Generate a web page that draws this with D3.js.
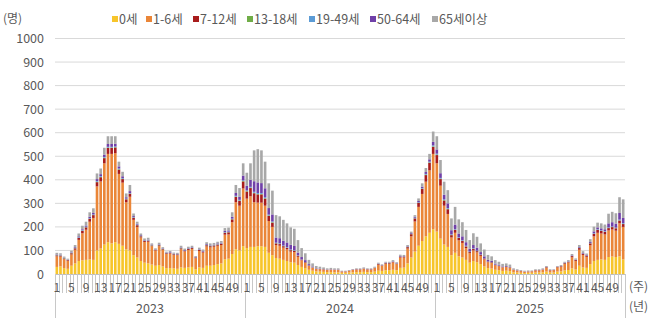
<!DOCTYPE html>
<html>
<head>
<meta charset="utf-8">
<script src="https://cdn.jsdelivr.net/npm/d3@7/dist/d3.min.js"></script>
<style>
  html, body { margin: 0; padding: 0; background: #fff; }
  svg { display: block; font-family: "Noto Sans CJK KR", "Noto Sans", sans-serif; }
</style>
</head>
<body>
<svg id="chart" width="651" height="330"></svg>
<script>
// Weekly counts by age group, 2023 week 1 – 2025 week 52
const years = ["2023", "2024", "2025"];
const weeksPerYear = 52;
const weekTickLabels = [1, 5, 9, 13, 17, 21, 25, 29, 33, 37, 41, 45, 49];
const yTicks = [0, 100, 200, 300, 400, 500, 600, 700, 800, 900, 1000];
const seriesNames = ["0세", "1-6세", "7-12세", "13-18세", "19-49세", "50-64세", "65세이상"];

const age0 = [
  30,32,25,22,35,45,55,58,60,62, 60,100,108,125,135,130,135,128,120,105,
  100,80,70,55,48,45,40,35,38,32, 25,25,24,22,28,26,28,30,20,28,
  26,35,35,38,42,45,62,65,85,105, 100,118,
  110,115,115,118,118,115,90,80,68,65, 60,55,50,48,38,30,25,18,14,11,
  10,9,8,8,7,7,5,5,6,7, 8,8,9,8,8,10,14,13,16,16,
  18,16,26,27,45,70,95,120,140,160, 175,190,
  180,150,125,115,80,90,75,70,60,48, 55,50,42,32,25,23,18,16,13,14,
  12,7,6,5,4,5,5,6,6,7, 10,6,6,10,11,15,17,24,19,35,
  28,26,42,55,60,62,60,72,74,72, 75,62
];
const age1to6 = [
  45,42,38,34,48,58,90,115,128,160, 178,272,285,345,375,380,378,297,268,200,
  228,150,130,100,88,92,78,65,80,70, 60,62,57,58,77,70,74,76,47,70,
  65,82,78,78,78,78,105,103,135,200, 190,245,
  210,215,190,185,185,175,135,120,55,55, 52,50,45,45,35,28,22,16,13,10,
  10,10,9,10,10,10,6,6,7,10, 11,11,13,11,11,15,25,21,27,27,
  31,26,44,43,63,90,128,165,200,232, 265,320,
  290,225,165,140,75,85,68,62,50,40, 45,42,35,30,25,24,19,17,15,16,
  15,10,8,7,6,6,6,9,9,11, 17,9,10,18,20,28,32,47,36,68,
  53,47,80,105,115,110,108,113,115,112, 140,138
];
const age7to12 = [
  4,4,3,3,5,6,8,10,10,12, 12,18,18,22,25,25,24,18,15,12,
  13,9,7,5,4,4,3,3,4,3, 3,3,3,3,4,3,4,4,3,4,
  4,5,5,5,5,5,8,9,12,22, 20,30,
  30,35,38,35,35,30,22,18,7,7, 6,6,6,5,4,3,3,2,1,1,
  1,1,1,1,1,1,0,0,1,1, 1,1,1,1,1,1,3,2,3,3,
  3,2,4,4,6,9,13,17,22,28, 32,30,
  35,28,22,20,10,12,10,8,7,5, 6,5,4,4,3,3,2,2,1,1,
  1,1,1,1,0,0,1,1,1,1, 2,1,1,2,2,3,3,5,4,7,
  5,5,8,10,12,11,11,10,10,10, 12,12
];
const age13to18 = [
  1,1,1,0,1,1,1,1,1,1, 1,2,2,2,2,2,2,2,1,1,
  1,1,1,1,1,1,1,0,1,1, 0,0,0,0,1,0,1,1,0,0,
  0,1,1,1,1,1,1,1,1,2, 2,2,
  2,2,2,2,2,2,2,2,1,1, 1,1,1,1,1,0,0,0,0,0,
  0,0,0,0,0,0,0,0,0,0, 0,0,0,0,0,0,0,0,0,0,
  0,0,0,0,1,1,1,1,1,2, 2,2,
  2,2,2,2,1,1,1,1,1,1, 1,1,1,0,0,0,0,0,0,0,
  0,0,0,0,0,0,0,0,0,0, 0,0,0,0,0,0,0,0,0,1,
  0,0,1,1,1,1,1,1,1,1, 1,1
];
const age19to49 = [
  1,1,1,1,1,1,2,2,2,2, 2,3,3,3,3,3,3,3,3,2,
  2,2,2,1,1,1,1,1,1,1, 1,1,1,1,1,1,1,1,1,1,
  1,1,1,1,1,1,2,2,2,3, 3,3,
  3,3,4,4,4,4,3,3,2,2, 2,2,2,2,1,1,1,1,1,0,
  0,0,0,0,0,0,0,0,0,0, 0,0,0,0,0,0,1,0,1,1,
  1,1,1,1,1,1,2,2,2,3, 3,4,
  4,3,3,3,2,2,2,2,2,1, 2,1,1,1,1,1,1,1,0,0,
  0,0,0,0,0,0,0,0,0,0, 0,0,0,0,0,1,1,1,1,1,
  1,1,1,2,2,2,2,2,2,2, 3,3
];
const age50to64 = [
  2,2,1,1,2,3,4,4,5,6, 6,8,8,10,12,12,11,9,8,6,
  8,4,3,3,2,3,2,1,2,2, 1,2,1,1,2,2,2,2,1,2,
  2,3,2,2,3,3,5,5,8,12, 14,20,
  20,30,45,45,42,38,28,30,22,22, 20,20,20,18,12,10,8,5,3,2,
  2,1,1,1,1,1,1,1,1,1, 1,1,1,1,1,1,1,1,1,1,
  1,1,2,1,2,3,4,5,6,8, 10,15,
  18,20,20,20,18,20,16,17,15,12, 14,13,10,8,6,5,4,3,3,3,
  2,1,1,1,1,1,0,1,1,1, 1,1,1,1,1,1,1,2,1,3,
  2,2,4,8,8,8,8,17,18,17, 28,22
];
const age65plus = [
  7,6,5,4,7,9,12,15,16,19, 20,24,24,29,33,33,32,20,19,16,
  26,11,9,7,7,8,5,4,7,5, 5,5,5,5,7,6,6,6,4,7,
  6,8,8,7,7,7,12,12,19,34, 36,52,
  55,70,131,141,139,113,105,101,95,93, 89,81,74,73,53,38,29,18,13,10,
  8,7,5,6,5,5,2,2,2,2, 3,3,4,3,3,4,4,4,4,4,
  5,4,5,5,5,6,7,11,14,17, 23,44,
  56,56,55,56,50,75,60,60,52,37, 50,46,37,29,21,19,15,13,11,11,
  10,5,4,3,3,3,3,3,3,4, 4,3,2,3,4,4,5,6,5,8,
  8,6,12,20,20,21,20,41,44,44, 67,79
];

const seriesValues = [age0, age1to6, age7to12, age13to18, age19to49, age50to64, age65plus];
const colors = ["#F7C52B", "#EA8638", "#A81C1C", "#70AD47", "#5B9BD5", "#7040A8", "#A8A8A8"];

// one row per week, keyed by series name
const rows = [];
years.forEach((yr, yi) => {
  for (let w = 1; w <= weeksPerYear; w++) {
    const i = yi * weeksPerYear + (w - 1);
    const row = { id: yr + "-" + w, year: yr, week: w };
    seriesNames.forEach((name, si) => { row[name] = seriesValues[si][i]; });
    rows.push(row);
  }
});

const svg = d3.select("#chart");
const left = 55, right = 625, baseY = 274, topY = 38.5;
const textColor = "#595959";

const x = d3.scaleBand().domain(rows.map(d => d.id)).range([left, right]).paddingInner(0.28).paddingOuter(0.14);
const y = d3.scaleLinear().domain([0, 1000]).range([baseY, topY]);
const step = x.step();

// horizontal gridlines
svg.append("g").selectAll("line").data(yTicks.filter(t => t > 0)).join("line")
  .attr("x1", left).attr("x2", right)
  .attr("y1", d => y(d)).attr("y2", d => y(d))
  .attr("stroke", "#D9D9D9").attr("stroke-width", 1);

// stacked bars
const stacked = d3.stack().keys(seriesNames)(rows);
svg.append("g").selectAll("g").data(stacked).join("g")
  .attr("fill", (d, i) => colors[i])
  .selectAll("rect").data(d => d).join("rect")
  .attr("x", d => x(d.data.id))
  .attr("width", x.bandwidth())
  .attr("y", d => y(d[1]))
  .attr("height", d => Math.max(0, y(d[0]) - y(d[1])));

// y axis
const yAxis = svg.append("g").attr("transform", `translate(${left - 11},0)`)
  .call(d3.axisLeft(y).tickValues(yTicks).tickFormat(d3.format("d")).tickSize(0).tickPadding(0));
yAxis.select(".domain").remove();
yAxis.selectAll("text").attr("fill", textColor).style("font-size", "12.5px")
  .style("font-family", "'Noto Sans CJK KR', sans-serif");

// x axis line
svg.append("line").attr("x1", left).attr("x2", right).attr("y1", baseY + 0.5).attr("y2", baseY + 0.5)
  .attr("stroke", "#BFBFBF");

// category separators: short for weeks, long for years
const bounds = rows.map((d, i) => ({ pos: left + i * step, isYear: d.week === 1 }));
bounds.push({ pos: right, isYear: true });
svg.append("g").selectAll("line").data(bounds).join("line")
  .attr("x1", d => Math.round(d.pos) + 0.5).attr("x2", d => Math.round(d.pos) + 0.5)
  .attr("y1", baseY)
  .attr("y2", d => d.isYear ? baseY + 44 : baseY + 19)
  .attr("stroke", "#C8C8C8").attr("stroke-width", 1);

// week labels
svg.append("g").selectAll("text").data(rows.filter(d => weekTickLabels.includes(d.week))).join("text")
  .attr("x", d => x(d.id) + x.bandwidth() / 2)
  .attr("y", baseY + 18)
  .attr("text-anchor", "middle")
  .attr("fill", textColor).style("font-size", "12px")
  .text(d => d.week);

// year labels
svg.append("g").selectAll("text").data(years).join("text")
  .attr("x", (d, i) => left + (i + 0.5) * weeksPerYear * step)
  .attr("y", baseY + 39)
  .attr("text-anchor", "middle")
  .attr("fill", textColor).style("font-size", "12.5px")
  .text(d => d);

// unit labels
svg.append("text").attr("x", 3).attr("y", 23).attr("fill", textColor).style("font-size", "12px").text("(명)");
svg.append("text").attr("x", 629).attr("y", 291).attr("fill", textColor).style("font-size", "12px").text("(주)");
svg.append("text").attr("x", 629).attr("y", 311).attr("fill", textColor).style("font-size", "12px").text("(년)");

// legend
const legendX = [112, 146, 193, 247, 309, 370, 432];
const legend = svg.append("g").selectAll("g").data(seriesNames).join("g")
  .attr("transform", (d, i) => `translate(${legendX[i]},19)`);
legend.append("rect").attr("x", 0).attr("y", -3).attr("width", 6).attr("height", 6)
  .attr("fill", (d, i) => colors[i]);
legend.append("text").attr("x", 7).attr("y", 4.5).attr("fill", textColor)
  .style("font-size", "12.5px").text(d => d);
</script>
</body>
</html>
